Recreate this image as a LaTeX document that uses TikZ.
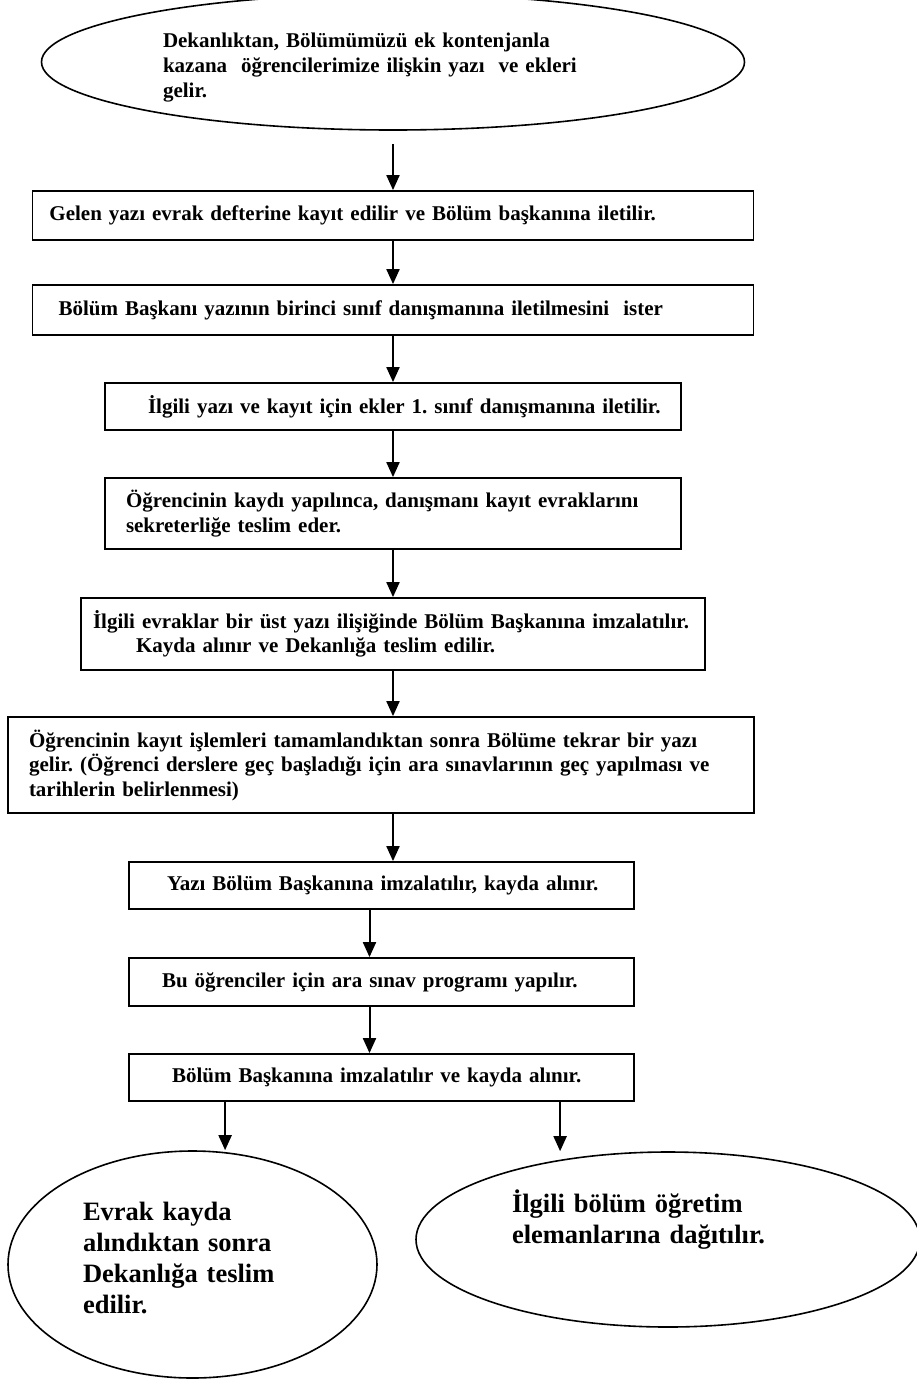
\documentclass[tikz,border=0pt]{standalone}
\usepackage{fontspec}
\setmainfont{Liberation Serif}
\frenchspacing
\usetikzlibrary{shapes.geometric,arrows.meta,calc}

\begin{document}
\begin{tikzpicture}[x=1pt, y=-1pt]
    \tikzstyle{box} = [rectangle, draw, line width=1.8pt, inner xsep=0pt, inner ysep=2pt, align=left, font=\bfseries\fontsize{21}{24.5}\selectfont]
    \tikzset{lpad/.style={execute at begin node={\leftskip=#1pt\relax}, execute at end node={\endgraf}}}
    \tikzstyle{oval} = [ellipse, draw, line width=1.6pt, inner sep=2pt, align=left, font=\bfseries\fontsize{21}{25}\selectfont]
    \tikzstyle{bigoval} = [oval, font=\bfseries\fontsize{26.5}{31}\selectfont]
    \tikzstyle{arrow} = [line width=2pt, -{Triangle[length=15pt,width=13pt]}]

    \useasboundingbox (0,0) rectangle (917,1379);

    % Incoming letter
    \node [oval, minimum width=703, minimum height=136, text width=460, text depth=44pt] (start) at (393,62) {Dekanlıktan, Bölümümüzü ek kontenjanla\\kazana~ öğrencilerimize ilişkin yazı~ ve ekleri\\gelir.};

    % Steps
    \node [box, lpad=17, text width=721, minimum height=49] (gelen) at (393,215.5) {Gelen yazı evrak defterine kayıt edilir ve Bölüm başkanına iletilir.};
    \node [box, lpad=26, text width=721, minimum height=50] (baskan) at (393,310) {Bölüm Başkanı yazının birinci sınıf danışmanına iletilmesini~ ister};
    \node [box, lpad=43, text width=576, minimum height=47] (ekler) at (393,406.5) {İlgili yazı ve kayıt için ekler 1. sınıf danışmanına iletilir.};
    \node [box, lpad=21, text width=576, minimum height=71] (kayit) at (393,513.5) {Öğrencinin kaydı yapılınca, danışmanı kayıt evraklarını\\sekreterliğe teslim eder.};
    \node [box, lpad=12, text width=624, minimum height=72] (evraklar) at (393,634) {İlgili evraklar bir üst yazı ilişiğinde Bölüm Başkanına imzalatılır.\\\hspace*{43pt}Kayda alınır ve Dekanlığa teslim edilir.};
    \node [box, lpad=21, text width=746, minimum height=96] (islemler) at (381,765) {Öğrencinin kayıt işlemleri tamamlandıktan sonra Bölüme tekrar bir yazı\\gelir. (Öğrenci derslere geç başladığı için ara sınavlarının geç yapılması ve\\tarihlerin belirlenmesi)};
    \node [box, lpad=38, text width=505, minimum height=47] (imza) at (381.5,885.5) {Yazı Bölüm Başkanına imzalatılır, kayda alınır.};
    \node [box, lpad=33, text width=505, minimum height=48] (sinav) at (381.5,982) {Bu öğrenciler için ara sınav programı yapılır.};
    \node [box, lpad=43, text width=505, minimum height=47] (imza2) at (381.5,1077.5) {Bölüm Başkanına imzalatılır ve kayda alınır.};

    % Results
    \node [bigoval, minimum width=369, minimum height=227, text width=219, text depth=107pt] (dekanlik) at (192.5,1264.5) {Evrak kayda\\alındıktan sonra\\Dekanlığa teslim\\edilir.};
    \node [bigoval, minimum width=504, minimum height=175, text width=312, text depth=77pt] (dagitim) at (668,1239.5) {İlgili bölüm öğretim\\elemanlarına dağıtılır.};

    % Arrows
    \draw [arrow, shorten <=13pt] (start) -- (gelen);
    \draw [arrow] (gelen) -- (baskan);
    \draw [arrow] (baskan) -- (ekler);
    \draw [arrow] (ekler) -- (kayit);
    \draw [arrow] (kayit) -- (evraklar);
    \draw [arrow] (evraklar.south) -- (evraklar.south |- islemler.north);
    \draw [arrow] (islemler.south -| evraklar.south) -- (evraklar.south |- imza.north);
    \draw [arrow] ($(imza.south)+(-12,0)$) -- ($(sinav.north)+(-12,0)$);
    \draw [arrow] ($(sinav.south)+(-12,0)$) -- ($(imza2.north)+(-12,0)$);
    \coordinate (sol) at ($(imza2.south west)+(97,0)$);
    \coordinate (sag) at ($(imza2.south west)+(432,0)$);
    \draw [arrow] (sol) -- (sol |- dekanlik.north);
    \draw [arrow] (sag) -- (sag |- dagitim.north);
\end{tikzpicture}
\end{document}
